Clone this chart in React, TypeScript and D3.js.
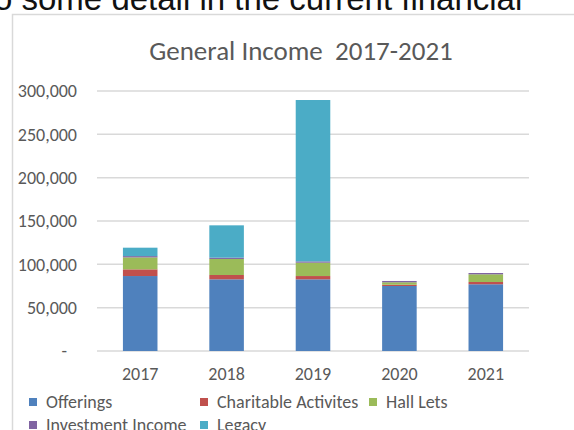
import React from "react";
import * as d3 from "d3";

const years = ["2017", "2018", "2019", "2020", "2021"];
const seriesNames = ["Offerings", "Charitable Activites", "Hall Lets", "Investment Income", "Legacy"];
const offerings = [86500, 82700, 82700, 75000, 77000];
const charitable = [7700, 5000, 3800, 1500, 2600];
const hallLets = [13800, 18500, 15400, 2800, 8900];
const investment = [1500, 1500, 1500, 1500, 1500];
const legacy = [9700, 37300, 186200, 0, 0];
const yTicks = [0, 50000, 100000, 150000, 200000, 250000, 300000];
const colors = ["#4F81BD", "#C0504D", "#9BBB59", "#8064A2", "#4BACC6"];

export default function App() {
  const W = 574, H = 430;
  const font = "Calibri, Carlito, 'Open Sans', sans-serif";
  const x = d3.scaleBand<string>().domain(years).range([97, 529]).paddingInner(0.6).paddingOuter(0.3);
  const y = d3.scaleLinear().domain([0, 300000]).range([351, 91]);
  const rows = years.map((yr, i) => ({
    year: yr,
    s0: offerings[i], s1: charitable[i], s2: hallLets[i], s3: investment[i], s4: legacy[i],
  }));
  const stack = d3.stack<any>().keys(["s0", "s1", "s2", "s3", "s4"]);
  const layers = stack(rows);
  const fmt = (v: number) => (v === 0 ? "-" : d3.format(",")(v));
  const legendItems = [
    { i: 0, x: 29, y: 402 },
    { i: 1, x: 200, y: 402 },
    { i: 2, x: 369, y: 402 },
    { i: 3, x: 29, y: 425 },
    { i: 4, x: 200, y: 425 },
  ];
  return (
    <svg width={W} height={H} style={{ position: "fixed", left: 0, top: 0, background: "#fff" }}>
      <rect x={0} y={0} width={W} height={H} fill="#fff" />
      <text x={-6} y={10} fontFamily="'Liberation Sans', Arial, sans-serif" fontSize={33} fill="#111">
        o some detail in the current financial
      </text>
      <rect x={12.5} y={14.5} width={W} height={H} fill="#fff" stroke="#d9d9d9" strokeWidth={1.5} />
      <text x={301} y={60} textAnchor="middle" fontFamily={font} fontSize={27} fill="#595959">
        General Income{"\u00a0\u00a0"}2017-2021
      </text>
      {yTicks.map((t) => (
        <g key={t}>
          <line x1={97} x2={529} y1={y(t)} y2={y(t)} stroke="#d9d9d9" strokeWidth={1.5} />
          <text
            x={t === 0 ? 67 : 77}
            y={y(t)}
            dy="0.35em"
            textAnchor="end"
            fontFamily={font}
            fontSize={18}
            fill="#595959"
          >
            {fmt(t)}
          </text>
        </g>
      ))}
      {layers.map((layer, li) => (
        <g key={li} fill={colors[li]}>
          {layer.map((d, j) => (
            <rect
              key={j}
              x={x(years[j])}
              y={y(d[1])}
              width={x.bandwidth()}
              height={Math.max(0, y(d[0]) - y(d[1]))}
            />
          ))}
        </g>
      ))}
      {years.map((yr) => (
        <text
          key={yr}
          x={(x(yr) as number) + x.bandwidth() / 2}
          y={380}
          textAnchor="middle"
          fontFamily={font}
          fontSize={18}
          fill="#595959"
        >
          {yr}
        </text>
      ))}
      {legendItems.map((it) => (
        <g key={it.i}>
          <rect x={it.x} y={it.y - 4} width={8} height={8} fill={colors[it.i]} />
          <text x={it.x + 17} y={it.y} dy="0.35em" fontFamily={font} fontSize={18} fill="#595959">
            {seriesNames[it.i]}
          </text>
        </g>
      ))}
    </svg>
  );
}
